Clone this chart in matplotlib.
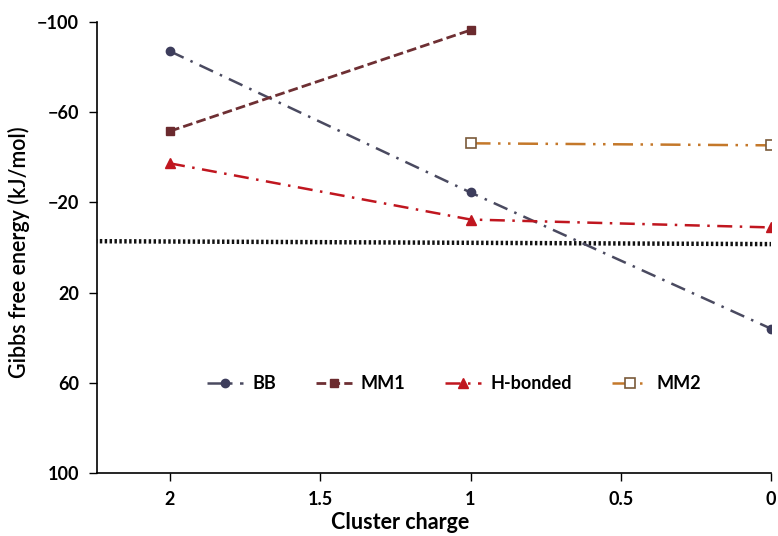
import matplotlib
matplotlib.use("Agg")
import matplotlib.pyplot as plt

plt.rcParams['font.family'] = ['Lato', 'DejaVu Sans']

# Data
bb_x = [2, 1, 0]
bb_y = [-87, -24.4, 36]
mm1_x = [2, 1]
mm1_y = [-51.6, -96.4]
hb_x = [2, 1, 0]
hb_y = [-37.3, -12.4, -8.9]
mm2_x = [1, 0]
mm2_y = [-46.2, -45.3]
thr_x = [2.25, 0]
thr_y = [-2.8, -1.5]
xticks = [2, 1.5, 1, 0.5, 0]
xticklabels = ['2', '1.5', '1', '0.5', '0']
yticks = [-100, -60, -20, 20, 60, 100]

fig = plt.figure(figsize=(7.78, 5.36), dpi=100)
ax = fig.add_axes([0.1247, 0.1175, 0.8663, 0.8415])

ax.plot(thr_x, thr_y, color='#111111', lw=3.2, ls=(0, (0.55, 0.55)), zorder=1)

ax.plot(bb_x, bb_y, color='#4a4a60', lw=1.8, ls=(0, (6, 3, 1, 3)),
        marker='o', ms=6, mfc='#3d3d5c', mec='#3d3d5c', label='BB', zorder=3)
ax.plot(mm1_x, mm1_y, color='#6e2f33', lw=2.0, ls=(0, (3.5, 1.5)),
        marker='s', ms=6, mfc='#6b2a2e', mec='#6b2a2e', label='MM1', zorder=3)
ax.plot(hb_x, hb_y, color='#c0161f', lw=1.8, ls=(0, (6, 3, 1, 3)),
        marker='^', ms=7, mfc='#c0161f', mec='#c0161f', label='H-bonded', zorder=3)
ax.plot(mm2_x, mm2_y, color='#c4782a', lw=1.8, ls=(0, (8, 3, 1, 3, 1, 3)),
        marker='s', ms=7, mfc='white', mec='#7a5a3a', mew=1.2, label='MM2', zorder=3)

ax.set_xlim(2.243, 0)
ax.set_ylim(100, -100)
ax.set_xticks(xticks)
ax.set_xticklabels(xticklabels)
ax.set_yticks(yticks)
for lab in ax.get_xticklabels() + ax.get_yticklabels():
    lab.set_fontweight('bold')
    lab.set_fontsize(13)

ax.spines['top'].set_visible(False)
ax.spines['right'].set_visible(False)
ax.spines['left'].set_linewidth(1.2)
ax.spines['bottom'].set_linewidth(1.2)
ax.tick_params(axis='both', direction='out', length=6, width=1.0, pad=7)

ax.set_xlabel('Cluster charge', fontsize=15.5, fontweight='bold')
ax.xaxis.set_label_coords(0.45, -0.087)
ax.set_ylabel('Gibbs free energy (kJ/mol)', fontsize=15.5, fontweight='semibold')
ax.yaxis.set_label_coords(-0.1, 0.49)

leg = ax.legend(loc='center', bbox_to_anchor=(0.53, 0.198), ncol=4, frameon=False,
                prop={'weight': 'bold', 'size': 13}, handlelength=2.0,
                columnspacing=2.2, handletextpad=0.5)

fig.savefig('out.png', dpi=100)
